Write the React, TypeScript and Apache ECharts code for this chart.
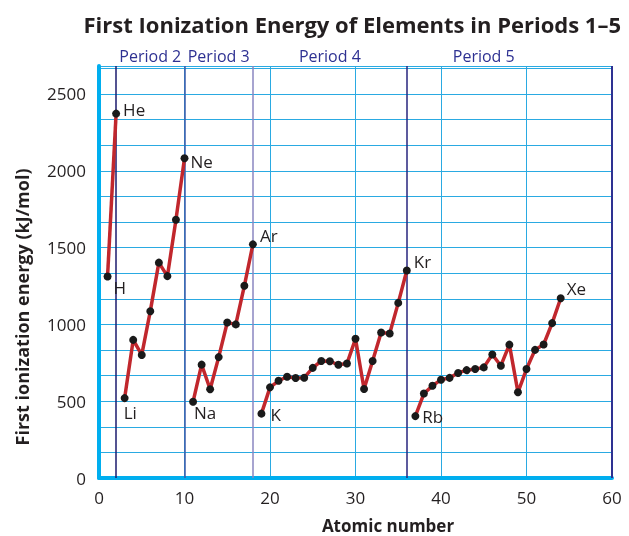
import React, { useEffect, useRef } from 'react';
import * as echarts from 'echarts';

// First ionization energies (kJ/mol) by period
const period1Start = 1;
const period1Symbols = ['H', 'He'];
const period1Values = [1312, 2372];

const period2Start = 3;
const period2Symbols = ['Li', 'Be', 'B', 'C', 'N', 'O', 'F', 'Ne'];
const period2Values = [520, 899, 801, 1086, 1402, 1314, 1681, 2081];

const period3Start = 11;
const period3Symbols = ['Na', 'Mg', 'Al', 'Si', 'P', 'S', 'Cl', 'Ar'];
const period3Values = [496, 738, 578, 787, 1012, 1000, 1251, 1521];

const period4Start = 19;
const period4Symbols = ['K', 'Ca', 'Sc', 'Ti', 'V', 'Cr', 'Mn', 'Fe', 'Co', 'Ni', 'Cu', 'Zn', 'Ga', 'Ge', 'As', 'Se', 'Br', 'Kr'];
const period4Values = [419, 590, 633, 659, 651, 653, 717, 762, 760, 737, 745, 906, 579, 762, 947, 941, 1140, 1351];

const period5Start = 37;
const period5Symbols = ['Rb', 'Sr', 'Y', 'Zr', 'Nb', 'Mo', 'Tc', 'Ru', 'Rh', 'Pd', 'Ag', 'Cd', 'In', 'Sn', 'Sb', 'Te', 'I', 'Xe'];
const period5Values = [403, 550, 600, 640, 652, 684, 702, 710, 720, 804, 731, 868, 558, 709, 834, 869, 1008, 1170];

const labeledElements = ['H', 'He', 'Li', 'Ne', 'Na', 'Ar', 'K', 'Kr', 'Rb', 'Xe'];

const periodNames = ['Period 2', 'Period 3', 'Period 4', 'Period 5'];
const periodBounds = [[2, 10], [10, 18], [18, 36], [36, 54]];
const periodLineX = [2, 10, 18, 36];

const TITLE = 'First Ionization Energy of Elements in Periods 1\u20135';
const Y_NAME = 'First ionization energy (kJ/mol)';
const X_NAME = 'Atomic number';

// styling only
const labelOffsets: Record<string, number[]> = {
  H: [0, 11], He: [1, -4], Li: [-7, 14], Ne: [0, 3], Na: [-5, 11],
  Ar: [1, -9], K: [3, 1], Kr: [1, -9], Rb: [1, 0], Xe: [0, -10],
};
const periodLineColors = ['#1b1a6e', '#3d5aa8', '#8a86c0', '#27247e'];

const FONT = 'Open Sans, Noto Sans, sans-serif';
const TEXT = '#231f20';

function buildData(start: number, symbols: string[], values: number[]) {
  return values.map((v, i) => {
    const sym = symbols[i];
    const item: any = { name: sym, value: [start + i, v] };
    if (labeledElements.includes(sym)) {
      item.label = {
        show: true,
        formatter: sym,
        position: 'right',
        distance: 2,
        offset: labelOffsets[sym] || [0, 0],
        fontSize: 17,
        color: TEXT,
        fontFamily: FONT,
      };
    }
    return item;
  });
}

export default function App() {
  const ref = useRef<HTMLDivElement>(null);
  useEffect(() => {
    if (!ref.current) return;
    const chart = echarts.init(ref.current, undefined, { renderer: 'svg' });
    const periods = [
      buildData(period1Start, period1Symbols, period1Values),
      buildData(period2Start, period2Symbols, period2Values),
      buildData(period3Start, period3Symbols, period3Values),
      buildData(period4Start, period4Symbols, period4Values),
      buildData(period5Start, period5Symbols, period5Values),
    ];
    const lineSeries = periods.map((d, i) => ({
      type: 'line',
      name: 'Period ' + (i + 1),
      data: d,
      z: 5,
      symbol: 'circle',
      symbolSize: 8,
      itemStyle: { color: '#1a1a1a' },
      lineStyle: { color: '#c1272d', width: 3.5 },
      label: { show: false },
      emphasis: { disabled: true },
    }));
    const option: any = {
      animation: false,
      textStyle: { fontFamily: FONT },
      title: {
        text: TITLE,
        right: 3,
        top: 8,
        textStyle: { fontSize: 22, fontWeight: 'bold', color: TEXT, fontFamily: FONT },
      },
      grid: { left: 99, right: 17, top: 66, bottom: 58, containLabel: false },
      xAxis: {
        type: 'value',
        min: 0,
        max: 60,
        interval: 10,
        axisLine: { show: true, onZero: false, lineStyle: { color: '#00aeef', width: 4 } },
        axisTick: { show: false },
        axisLabel: { fontSize: 17, color: TEXT, margin: 11, fontFamily: FONT },
        splitLine: { show: true, lineStyle: { color: '#2aaae2', width: 1 } },
      },
      yAxis: {
        type: 'value',
        min: 0,
        max: 2682,
        interval: 500 / 3,
        axisLine: { show: true, lineStyle: { color: '#00aeef', width: 4 } },
        axisTick: { show: false },
        axisLabel: {
          fontSize: 17,
          color: TEXT,
          margin: 13,
          fontFamily: FONT,
          showMaxLabel: false,
          formatter: (v: number) => {
            const r = Math.round(v / 500);
            return Math.abs(v / 500 - r) < 1e-6 ? String(r * 500) : '';
          },
        },
        splitLine: { show: true, lineStyle: { color: '#2aaae2', width: 1 } },
      },
      graphic: [
        {
          type: 'text',
          rotation: Math.PI / 2,
          x: 22,
          y: 307,
          style: {
            text: Y_NAME,
            fontSize: 18,
            fontWeight: 'bold',
            fill: TEXT,
            fontFamily: FONT,
            align: 'center',
            verticalAlign: 'middle',
          },
        },
        {
          type: 'text',
          x: 388,
          y: 525,
          style: {
            text: X_NAME,
            fontSize: 17,
            fontWeight: 'bold',
            fill: TEXT,
            fontFamily: FONT,
            align: 'center',
            verticalAlign: 'middle',
          },
        },
      ],
      series: [
        {
          type: 'line',
          name: 'guides',
          data: [],
          z: 2,
          silent: true,
          markLine: {
            silent: true,
            symbol: 'none',
            label: { show: false },
            data: [
              ...periodLineX.map((x, i) => ({
                xAxis: x,
                lineStyle: { color: periodLineColors[i], width: 1.5, type: 'solid' },
              })),
              { xAxis: 60, lineStyle: { color: '#2e3192', width: 2, type: 'solid' } },
            ],
          },
          markArea: {
            silent: true,
            itemStyle: { color: 'rgba(0,0,0,0)' },
            label: {
              show: true,
              position: 'top',
              distance: 2,
              fontSize: 16,
              color: '#2e3192',
              fontFamily: FONT,
            },
            data: periodBounds.map((b, i) => [
              { name: periodNames[i], xAxis: b[0] },
              { xAxis: b[1] },
            ]),
          },
        },
        ...lineSeries,
      ],
    };
    chart.setOption(option);
    return () => chart.dispose();
  }, []);
  return (
    <div
      ref={ref}
      style={{ position: 'fixed', left: 0, top: 0, width: 629, height: 536 }}
    />
  );
}
